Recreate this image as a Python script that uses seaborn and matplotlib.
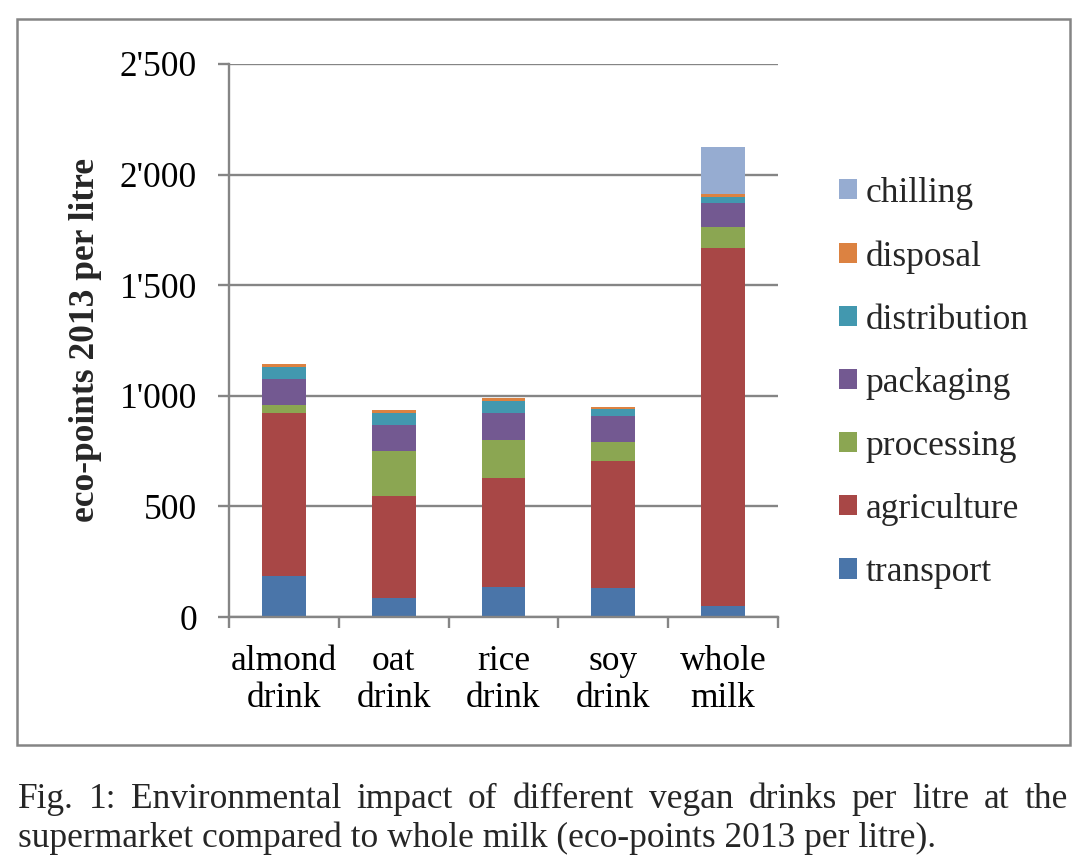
import numpy as np
import pandas as pd
import matplotlib
matplotlib.use("Agg")
import matplotlib.pyplot as plt
import seaborn as sns
from matplotlib.patches import Rectangle, Patch
from matplotlib.ticker import FixedLocator

# ---------------- data ----------------
drinks = ["almond\ndrink", "oat\ndrink", "rice\ndrink", "soy\ndrink", "whole\nmilk"]
components = ["transport", "agriculture", "processing", "packaging",
              "distribution", "disposal", "chilling"]
transport = [184, 85, 134, 131, 48]
agriculture = [737, 460, 493, 573, 1618]
processing = [39, 207, 175, 86, 96]
packaging = [115, 118, 121, 117, 108]
distribution = [54, 53, 52, 34, 29]
disposal = [14, 15, 14, 9, 15]
chilling = [0, 0, 0, 0, 213]
yticks = [0, 500, 1000, 1500, 2000, 2500]
ytick_labels = ["0", "500", "1'000", "1'500", "2'000", "2'500"]
ylabel = "eco-points 2013 per litre"
caption_line1 = "Fig. 1: Environmental impact of different vegan drinks per litre at the"
caption_line2 = "supermarket compared to whole milk (eco-points 2013 per litre)."

colors = {
    "transport": "#4A75A9",
    "agriculture": "#A84746",
    "processing": "#8BA652",
    "packaging": "#735991",
    "distribution": "#4298AF",
    "disposal": "#DC8241",
    "chilling": "#96ACD1",
}

series = {
    "transport": transport, "agriculture": agriculture, "processing": processing,
    "packaging": packaging, "distribution": distribution, "disposal": disposal,
    "chilling": chilling,
}
df = pd.DataFrame(series, index=drinks)
cum = df.cumsum(axis=1)

# ---------------- style ----------------
sns.set_theme(style="white")
plt.rcParams["font.family"] = ["Liberation Serif", "DejaVu Serif"]
FS = 25.5
GRAY = "#858585"

W, H = 1091, 866
fig = plt.figure(figsize=(W / 100, H / 100), dpi=100)
ax = fig.add_axes([229 / W, 1 - 617 / H, (778 - 229) / W, (617 - 64) / H])

# draw cumulative stacks from top layer down so lower layers overlay
for comp in reversed(components):
    sns.barplot(x=drinks, y=cum[comp].values, order=drinks, color=colors[comp],
                width=0.4, saturation=1, linewidth=0, ax=ax)

ax.set_xlim(-0.5, 4.5)
ax.set_ylim(0, 2500)
ax.set_axisbelow(True)

# grid & spines
ax.yaxis.grid(True, color=GRAY, linewidth=1.7)
ax.xaxis.grid(False)
for s in ["top", "right"]:
    ax.spines[s].set_visible(False)
for s in ["left", "bottom"]:
    ax.spines[s].set_color(GRAY)
    ax.spines[s].set_linewidth(1.7)

ax.set_yticks(yticks)
ax.set_yticklabels(ytick_labels, fontsize=FS)
ax.tick_params(axis="y", which="major", direction="out", length=8, width=1.7,
               color=GRAY, pad=15, left=True, labelcolor="black")

ax.set_xticks(range(len(drinks)))
ax.set_xticklabels(drinks, fontsize=FS)
ax.tick_params(axis="x", which="major", length=0, pad=20, labelcolor="black")
ax.xaxis.set_minor_locator(FixedLocator(np.arange(-0.5, 5.0, 1.0)))
ax.tick_params(axis="x", which="minor", direction="out", length=8, width=1.7,
               color=GRAY, bottom=True)
for lbl in ax.get_xticklabels():
    lbl.set_linespacing(1.17)
ax.set_xlabel("")

ax.set_ylabel(ylabel, fontsize=FS, fontweight="bold", ha="center", va="center")
ax.yaxis.set_label_coords((85 - 229) / (778 - 229), 0.5)

# legend (reverse order, chilling at top)
handles = [Patch(facecolor=colors[c], edgecolor="none") for c in reversed(components)]
fig.legend(handles, list(reversed(components)), loc="center left",
           bbox_to_anchor=(839 / W, 1 - 383 / H), frameon=False, borderpad=0,
           borderaxespad=0, handlelength=0.5, handleheight=0.5,
           handletextpad=0.25, labelspacing=0.85, fontsize=FS)

# outer chart frame
fig.patches.append(Rectangle((17 / W, 1 - 745 / H), (1070 - 17) / W, (745 - 19) / H,
                             transform=fig.transFigure, fill=False,
                             edgecolor=GRAY, linewidth=1.8))

# caption, first line justified
renderer = fig.canvas.get_renderer()
words = caption_line1.split(" ")
texts, widths = [], []
for w in words:
    t = fig.text(0, 1 - 808 / H, w, fontsize=FS, va="baseline", ha="left")
    texts.append(t)
    widths.append(t.get_window_extent(renderer).width)
x0, x1 = 18, 1068
gap = ((x1 - x0) - sum(widths)) / (len(words) - 1)
x = x0
for t, wd in zip(texts, widths):
    t.set_x(x / W)
    x += wd + gap
fig.text(18 / W, 1 - 847 / H, caption_line2, fontsize=FS, va="baseline", ha="left")

fig.savefig("out.png", dpi=100)
